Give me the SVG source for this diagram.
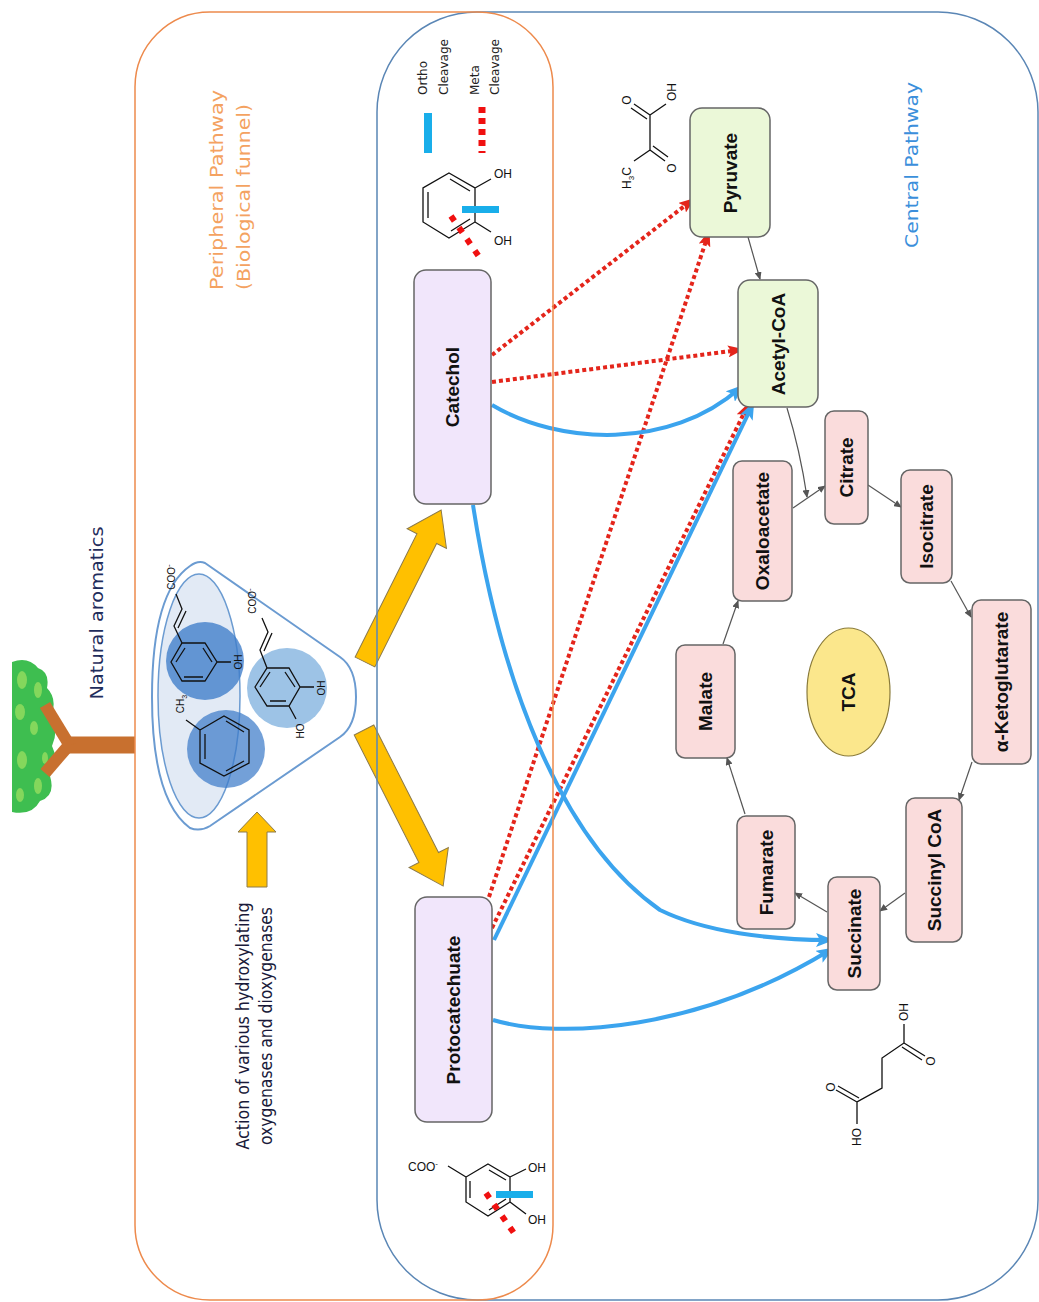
<svg xmlns="http://www.w3.org/2000/svg" width="1039" height="1302" viewBox="0 0 1039 1302">
<defs>
<style>
.box{stroke:#666;stroke-width:1.5}
.lav{fill:#F1E6FB}.grn{fill:#EBF8D8}.pnk{fill:#FADCDC}
.lbl{font-family:"Liberation Sans",Arial,sans-serif;font-weight:bold;font-size:19px;fill:#111;text-anchor:middle}
.chem{font-family:"Liberation Sans",Arial,sans-serif;font-size:12px;fill:#111;text-anchor:middle}
.chemS{font-family:"Liberation Sans",Arial,sans-serif;font-size:10px;fill:#111;text-anchor:middle}
.bond{stroke:#111;stroke-width:1.3;fill:none}
.red{stroke:#E4251B;stroke-width:4;stroke-dasharray:4 3;fill:none}
.blue{stroke:#3BA4EE;stroke-width:4;fill:none}
.gray{stroke:#555;stroke-width:1.2;fill:none}
.big{font-family:"DejaVu Sans",Verdana,sans-serif;font-size:18px}
.leg{font-family:"DejaVu Sans",Verdana,sans-serif;font-size:12px;fill:#222}
.yel{fill:#FFC000;stroke:#8C7A4A;stroke-width:1}
</style>
<marker id="mBlue" markerUnits="userSpaceOnUse" markerWidth="18" markerHeight="14" refX="13" refY="7" orient="auto"><path d="M0,0 L18,7 L0,14 L4,7 Z" fill="#3BA4EE"/></marker>
<marker id="mRed" markerUnits="userSpaceOnUse" markerWidth="16" markerHeight="12" refX="11" refY="6" orient="auto"><path d="M0,0 L16,6 L0,12 L3,6 Z" fill="#E4251B"/></marker>
<marker id="mGray" markerUnits="userSpaceOnUse" markerWidth="8" markerHeight="7" refX="7" refY="3.5" orient="auto"><path d="M0,0 L8,3.5 L0,7 Z" fill="#555"/></marker>
</defs>
<rect width="1039" height="1302" fill="#fff"/>

<!-- tree -->
<g id="tree">
<path d="M12,662 Q28,656 38,668 Q50,672 47,688 Q57,698 52,714 Q59,730 52,746 Q60,762 50,776 Q56,796 40,801 Q32,816 12,812 Z" fill="#3EBE50"/>
<g fill="#8CDA5E" opacity="0.9">
<ellipse cx="22" cy="680" rx="5" ry="9"/><ellipse cx="38" cy="690" rx="4" ry="8"/><ellipse cx="20" cy="712" rx="5" ry="8"/>
<ellipse cx="34" cy="728" rx="4" ry="7"/><ellipse cx="22" cy="760" rx="5" ry="9"/><ellipse cx="38" cy="786" rx="4" ry="8"/>
<ellipse cx="20" cy="795" rx="4" ry="7"/><ellipse cx="45" cy="758" rx="3" ry="6"/>
</g>
<g stroke="#C8702F" stroke-linecap="butt">
<line x1="66" y1="745" x2="135" y2="745" stroke-width="17"/>
<line x1="70" y1="746" x2="45" y2="705" stroke-width="12"/>
<line x1="70" y1="744" x2="45" y2="773" stroke-width="12"/>
</g>
</g>
<g id="natural-aromatics-label">
<text class="big" fill="#1F2D5C" font-size="17" text-anchor="middle" textLength="173" lengthAdjust="spacingAndGlyphs" transform="translate(97,613) rotate(-90)" dy="0.35em">Natural aromatics</text>
</g>

<!-- titles -->
<g id="peripheral-label" fill="#F4A261">
<text class="big" textLength="200" lengthAdjust="spacingAndGlyphs" transform="translate(217,290) rotate(-90)" dy="0.35em">Peripheral Pathway</text>
<text class="big" textLength="186" lengthAdjust="spacingAndGlyphs" transform="translate(244,290) rotate(-90)" dy="0.35em">(Biological funnel)</text>
</g>
<g id="central-label">
<text class="big" fill="#3B8FDB" text-anchor="middle" textLength="166" lengthAdjust="spacingAndGlyphs" transform="translate(912,165) rotate(-90)" dy="0.35em">Central Pathway</text>
</g>

<!-- funnel -->
<g id="funnel">
<path d="M205,563 L340,657 Q356,668 356,697 Q356,726 340,737 L210,826 Q200,832 190,828 Q152,800 152,697 Q152,592 190,566 Q198,560 205,563 Z" fill="#fff" stroke="#6B9BD1" stroke-width="2"/>
<ellipse cx="199" cy="696" rx="41" ry="122" fill="#E2EAF5" stroke="#6B9BD1" stroke-width="1.5"/>
<circle cx="205" cy="661" r="39" fill="#3D7CC9" opacity="0.78"/>
<circle cx="226" cy="749" r="39" fill="#3D7CC9" opacity="0.72"/>
<circle cx="287" cy="688" r="40" fill="#9DC3E6"/>
<!-- ring 1 -->
<path class="bond" d="M171,662 L182,643 L205,643 L217,662 L205,681 L182,681 Z M176,662 L185,648 M203,648 L212,662 M203,677 L184,677 M182,643 L174,626 L182,609 L176,594 M178,628 L186,611 M217,662 L231,662"/>
<text class="chemS" transform="translate(171,577) rotate(-90)" dy="0.35em">COO<tspan dy="-4" font-size="8">-</tspan></text>
<text class="chemS" transform="translate(238,662) rotate(-90)" dy="0.35em">OH</text>
<!-- ring 2 -->
<path class="bond" d="M200,730 L224,716 L249,730 L249,763 L224,776 L200,763 Z M205,734 L205,759 M226,721 L244,732 M244,761 L226,771 M200,730 L186,720"/>
<text class="chemS" transform="translate(180,704) rotate(-90)" dy="0.35em">CH<tspan font-size="7" dy="3">3</tspan></text>
<!-- ring 3 -->
<path class="bond" d="M255,687 L267,668 L289,668 L300,687 L289,706 L267,706 Z M260,687 L270,672 M285,672 L295,687 M286,701 L270,701 M267,668 L260,650 L268,632 L262,618 M264,651 L272,633 M300,687 L314,687 M289,706 L296,719"/>
<text class="chemS" transform="translate(252,601) rotate(-90)" dy="0.35em">COO<tspan dy="-4" font-size="8">-</tspan></text>
<text class="chemS" transform="translate(321,688) rotate(-90)" dy="0.35em">OH</text>
<text class="chemS" transform="translate(300,731) rotate(-90)" dy="0.35em">HO</text>
</g>

<!-- enzymes arrow + text -->
<g id="enzymes">
<polygon class="yel" points="247,887 247,832 238,832 257,812 276,832 267,832 267,887"/>
<text class="big" font-size="13" fill="#1a1a3a" text-anchor="middle" textLength="247" lengthAdjust="spacingAndGlyphs" transform="translate(243,1026) rotate(-90)" dy="0.35em">Action of various hydroxylating</text>
<text class="big" font-size="13" fill="#1a1a3a" text-anchor="middle" textLength="238" lengthAdjust="spacingAndGlyphs" transform="translate(266,1026) rotate(-90)" dy="0.35em">oxygenases and dioxygenases</text>
</g>

<!-- big yellow arrows -->
<g id="funnel-arrows">
<polygon class="yel" transform="translate(365,662) rotate(-63.4)" points="0,-11 138,-11 138,-22 170,0 138,22 138,11 0,11"/>
<polygon class="yel" transform="translate(364,730) rotate(63.1)" points="0,-11 143,-11 143,-22 175,0 143,22 143,11 0,11"/>
</g>

<!-- legend -->
<g id="legend">
<text class="leg" transform="translate(423,95) rotate(-90)" dy="0.35em">Ortho</text>
<text class="leg" transform="translate(444,95) rotate(-90)" dy="0.35em">Cleavage</text>
<text class="leg" transform="translate(475,95) rotate(-90)" dy="0.35em">Meta</text>
<text class="leg" transform="translate(495,95) rotate(-90)" dy="0.35em">Cleavage</text>
<rect x="424" y="113" width="8" height="40" fill="#19AEEA"/>
<line x1="482" y1="107" x2="482" y2="153" stroke="#F01010" stroke-width="7" stroke-dasharray="6 5"/>
</g>

<!-- catechol structure -->
<g id="catechol-structure">
<path class="bond" d="M449,173 L475,188 L475,222 L449,238 L423,222 L423,188 Z M428,192 L428,218 M450,179 L470,191 M470,219 L451,231 M475,188 L491,179 M475,222 L491,232"/>
<text class="chem" font-size="14" x="503" y="178">OH</text>
<text class="chem" font-size="14" x="503" y="245">OH</text>
<rect x="462" y="206" width="37" height="7" fill="#19AEEA"/>
<line x1="451" y1="216" x2="482" y2="261" stroke="#F01010" stroke-width="6" stroke-dasharray="6 8"/>
</g>

<!-- protocatechuate structure -->
<g id="protocatechuate-structure">
<path class="bond" d="M488,1164 L510,1177 L510,1202 L488,1216 L466,1202 L466,1177 Z M470,1181 L470,1198 M489,1170 L506,1180 M506,1199 L489,1210 M466,1177 L448,1166 M510,1177 L526,1169 M510,1202 L526,1214"/>
<text class="chem" x="423" y="1171">COO<tspan dy="-5" font-size="8">-</tspan></text>
<text class="chem" x="537" y="1172">OH</text>
<text class="chem" x="537" y="1224">OH</text>
<rect x="496" y="1191" width="37" height="7" fill="#19AEEA"/>
<line x1="486" y1="1193" x2="516" y2="1236" stroke="#F01010" stroke-width="6" stroke-dasharray="6 8"/>
</g>

<!-- pyruvate structure -->
<g id="pyruvate-structure">
<path class="bond" d="M650,115 L650,150 M650,115 L634,104 M647,119 L631,108 M650,115 L666,104 M650,150 L665,161 M653,146 L668,157 M650,150 L634,161"/>
<text class="chem" transform="translate(627,100) rotate(-90)" dy="0.35em">O</text>
<text class="chem" transform="translate(672,92) rotate(-90)" dy="0.35em">OH</text>
<text class="chem" transform="translate(672,168) rotate(-90)" dy="0.35em">O</text>
<text class="chem" transform="translate(627,178) rotate(-90)" dy="0.35em">H<tspan font-size="8" dy="3">3</tspan><tspan dy="-3">C</tspan></text>
</g>

<!-- succinate structure -->
<g id="succinate-structure">
<path class="bond" d="M904,1024 L904,1043 L882,1058 L882,1088 L857,1102 L857,1124 M904,1043 L925,1056 M902,1047 L922,1060 M857,1102 L836,1090 M859,1098 L838,1086"/>
<text class="chem" transform="translate(904,1012) rotate(-90)" dy="0.35em">OH</text>
<text class="chem" transform="translate(931,1061) rotate(-90)" dy="0.35em">O</text>
<text class="chem" transform="translate(831,1087) rotate(-90)" dy="0.35em">O</text>
<text class="chem" transform="translate(857,1137) rotate(-90)" dy="0.35em">HO</text>
</g>

<!-- connectors -->
<g id="connectors">
<path class="red" d="M492,355 L691,201" marker-end="url(#mRed)"/>
<path class="red" d="M492,382 L739,350" marker-end="url(#mRed)"/>
<path class="red" d="M489,897 L708,235" marker-end="url(#mRed)"/>
<path class="red" d="M492,928 L747,407" marker-end="url(#mRed)"/>
<path class="blue" d="M492,405 C560,445 670,450 740,388" marker-end="url(#mBlue)"/>
<path class="blue" d="M494,940 L752,406" marker-end="url(#mBlue)"/>
<path class="blue" d="M473,505 C500,680 560,840 660,910 C705,932 770,940 829,940" marker-end="url(#mBlue)"/>
<path class="blue" d="M493,1020 C560,1040 700,1030 830,950" marker-end="url(#mBlue)"/>
<path class="gray" d="M748,237 L760,279" marker-end="url(#mGray)"/>
<path class="gray" d="M787,408 Q800,450 807,497" marker-end="url(#mGray)"/>
<path class="gray" d="M793,508 L825,486" marker-end="url(#mGray)"/>
<path class="gray" d="M868,485 L901,507" marker-end="url(#mGray)"/>
<path class="gray" d="M951,581 L971,617" marker-end="url(#mGray)"/>
<path class="gray" d="M972,762 L959,800" marker-end="url(#mGray)"/>
<path class="gray" d="M905,893 L880,911" marker-end="url(#mGray)"/>
<path class="gray" d="M827,912 L795,893" marker-end="url(#mGray)"/>
<path class="gray" d="M745,814 L727,758" marker-end="url(#mGray)"/>
<path class="gray" d="M723,644 L738,601" marker-end="url(#mGray)"/>
</g>

<!-- containers -->
<g id="containers">
<rect x="377" y="12" width="661" height="1288" rx="100" fill="none" stroke="#5A86B5" stroke-width="1.5"/>
<rect x="135" y="12" width="418" height="1288" rx="75" fill="none" stroke="#ED8A4C" stroke-width="1.5"/>
</g>

<!-- nodes -->
<g id="catechol"><rect class="box lav" x="414" y="270" width="77" height="234" rx="12"/><text class="lbl" transform="translate(452,387) rotate(-90)" dy="0.35em">Catechol</text></g>
<g id="protocatechuate"><rect class="box lav" x="415" y="897" width="77" height="225" rx="12"/><text class="lbl" transform="translate(453,1010) rotate(-90)" dy="0.35em">Protocatechuate</text></g>
<g id="pyruvate"><rect class="box grn" x="690" y="108" width="80" height="129" rx="12"/><text class="lbl" transform="translate(730,173) rotate(-90)" dy="0.35em">Pyruvate</text></g>
<g id="acetyl-coa"><rect class="box grn" x="738" y="280" width="80" height="127" rx="12"/><text class="lbl" transform="translate(778,344) rotate(-90)" dy="0.35em">Acetyl-CoA</text></g>
<g id="citrate"><rect class="box pnk" x="825" y="411" width="43" height="113" rx="9"/><text class="lbl" transform="translate(846.5,467.5) rotate(-90)" dy="0.35em">Citrate</text></g>
<g id="oxaloacetate"><rect class="box pnk" x="733" y="461" width="59" height="140" rx="9"/><text class="lbl" transform="translate(762.5,531) rotate(-90)" dy="0.35em">Oxaloacetate</text></g>
<g id="isocitrate"><rect class="box pnk" x="901" y="470" width="51" height="113" rx="9"/><text class="lbl" transform="translate(926.5,526.5) rotate(-90)" dy="0.35em">Isocitrate</text></g>
<g id="a-ketoglutarate"><rect class="box pnk" x="972" y="600" width="59" height="164" rx="9"/><text class="lbl" transform="translate(1001.5,682) rotate(-90)" dy="0.35em">α-Ketoglutarate</text></g>
<g id="malate"><rect class="box pnk" x="676" y="645" width="59" height="113" rx="9"/><text class="lbl" transform="translate(705.5,701.5) rotate(-90)" dy="0.35em">Malate</text></g>
<g id="fumarate"><rect class="box pnk" x="737" y="816" width="58" height="113" rx="9"/><text class="lbl" transform="translate(766,872.5) rotate(-90)" dy="0.35em">Fumarate</text></g>
<g id="succinate"><rect class="box pnk" x="828" y="877" width="52" height="113" rx="9"/><text class="lbl" transform="translate(854,933.5) rotate(-90)" dy="0.35em">Succinate</text></g>
<g id="succinyl-coa"><rect class="box pnk" x="906" y="798" width="56" height="144" rx="9"/><text class="lbl" transform="translate(934,870) rotate(-90)" dy="0.35em">Succinyl CoA</text></g>
<g id="tca"><ellipse cx="848.5" cy="692" rx="41.5" ry="64" fill="#FBE78C" stroke="#8A7B3A" stroke-width="1.2"/><text class="lbl" transform="translate(848.5,692) rotate(-90)" dy="0.35em">TCA</text></g>
</svg>
